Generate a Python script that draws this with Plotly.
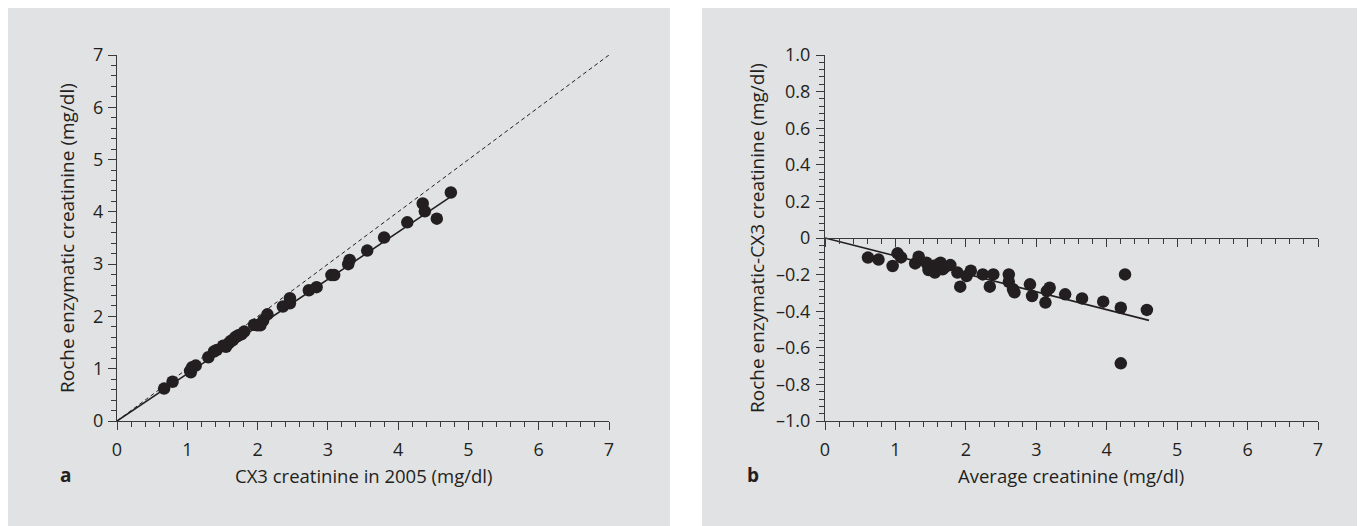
import plotly.graph_objects as go

# ---------------- data ----------------
# Panel a: CX3 creatinine in 2005 vs Roche enzymatic creatinine (mg/dl)
a_x = [0.67, 0.79, 1.04, 1.05, 1.07, 1.12, 1.30, 1.38, 1.42, 1.51, 1.55, 1.57, 1.60,
       1.62, 1.65, 1.68, 1.71, 1.73, 1.77, 1.81, 1.95, 2.00, 2.04, 2.08, 2.14, 2.36,
       2.46, 2.46, 2.73, 2.84, 3.05, 3.09, 3.29, 3.31, 3.56, 3.80, 4.13, 4.35, 4.38,
       4.55, 4.75]
a_y = [0.62, 0.75, 0.96, 0.93, 1.03, 1.06, 1.22, 1.33, 1.36, 1.44, 1.42, 1.46, 1.50,
       1.53, 1.55, 1.60, 1.62, 1.64, 1.66, 1.71, 1.84, 1.83, 1.83, 1.92, 2.04, 2.19,
       2.25, 2.35, 2.50, 2.56, 2.79, 2.79, 3.00, 3.08, 3.26, 3.51, 3.80, 4.16, 4.01,
       3.87, 4.37]
a_fit_x = [0, 4.75]
a_fit_y = [0, 4.29]
a_ident = [0, 7]

# Panel b: average creatinine vs difference Roche enzymatic - CX3 (mg/dl)
b_x = [0.61, 0.76, 0.96, 1.03, 1.08, 1.28, 1.33, 1.44, 1.47, 1.52, 1.56, 1.56, 1.64,
       1.67, 1.70, 1.78, 1.88, 1.92, 2.01, 2.07, 2.24, 2.34, 2.39, 2.61, 2.61, 2.67,
       2.69, 2.91, 2.94, 3.13, 3.15, 3.19, 3.41, 3.65, 3.95, 4.20, 4.26, 4.20, 4.57]
b_y = [-0.107, -0.118, -0.153, -0.084, -0.106, -0.139, -0.102, -0.135, -0.175, -0.160,
       -0.189, -0.150, -0.135, -0.171, -0.160, -0.148, -0.189, -0.266, -0.208, -0.179,
       -0.199, -0.266, -0.199, -0.199, -0.239, -0.280, -0.297, -0.253, -0.317, -0.353,
       -0.290, -0.272, -0.308, -0.330, -0.348, -0.381, -0.199, -0.685, -0.393]
b_fit_x = [0, 4.6]
b_fit_y = [0, -0.45]

x_ticks = [0, 1, 2, 3, 4, 5, 6, 7]
a_y_ticks = [0, 1, 2, 3, 4, 5, 6, 7]
b_y_tickvals = [1.0, 0.8, 0.6, 0.4, 0.2, 0, -0.2, -0.4, -0.6, -0.8, -1.0]
b_y_ticktext = ["1.0", "0.8", "0.6", "0.4", "0.2", "0", "\u20130.2", "\u20130.4",
                "\u20130.6", "\u20130.8", "\u20131.0"]

title_a_x = "CX3 creatinine in 2005 (mg/dl)"
title_a_y = "Roche enzymatic creatinine (mg/dl)"
title_b_x = "Average creatinine (mg/dl)"
title_b_y = "Roche enzymatic-CX3 creatinine (mg/dl)"
panel_labels = ["a", "b"]

# ---------------- style ----------------
OFF = 8                      # page body margin in the browser
W, H = 1365 - OFF, 526 - OFF  # figure size so that it fits the window
BG = "rgb(225,226,228)"
INK = "#231f20"
AX = "#3a3a3a"
FONT = "Open Sans"

def px(p):
    return max(0.0, min(1.0, (p - OFF) / W))

def py(p):
    return max(0.0, min(1.0, 1 - (p - OFF) / H))

dom_y = [py(421), py(55)]
dom_xa = [px(117), px(609)]
dom_xb = [px(825), px(1318)]

fig = go.Figure()

marker = dict(color=INK, size=12.5, line=dict(width=0))

fig.add_trace(go.Scatter(x=a_ident, y=a_ident, mode="lines",
                         line=dict(color=INK, width=1, dash="4px,3px"),
                         xaxis="x", yaxis="y", showlegend=False, hoverinfo="skip"))
fig.add_trace(go.Scatter(x=a_fit_x, y=a_fit_y, mode="lines",
                         line=dict(color=INK, width=1.6),
                         xaxis="x", yaxis="y", showlegend=False, hoverinfo="skip"))
fig.add_trace(go.Scatter(x=a_x, y=a_y, mode="markers", marker=marker,
                         xaxis="x", yaxis="y", showlegend=False))

fig.add_trace(go.Scatter(x=b_fit_x, y=b_fit_y, mode="lines",
                         line=dict(color=INK, width=1.6),
                         xaxis="x3", yaxis="y2", showlegend=False, hoverinfo="skip"))
fig.add_trace(go.Scatter(x=b_x, y=b_y, mode="markers", marker=marker,
                         xaxis="x2", yaxis="y2", showlegend=False))

tickfont = dict(family=FONT, size=18, color=INK)
minor_style = dict(ticks="outside", ticklen=5, tickwidth=1, tickcolor=AX)

def xaxis_common(domain, anchor):
    return dict(domain=domain, anchor=anchor, range=[0, 7], tickvals=x_ticks,
                showgrid=False, zeroline=False, showline=True, linecolor=AX, linewidth=1.3,
                ticks="outside", ticklen=8, tickwidth=1.3, tickcolor=AX,
                minor=dict(dtick=0.2, **minor_style), automargin=False,
                ticklabelstandoff=4,
                tickfont=tickfont, fixedrange=True)

xa = xaxis_common(dom_xa, "y")
xb = xaxis_common(dom_xb, "y2")
x0b = xaxis_common(dom_xb, "free")
x0b.update(overlaying="x2", position=(dom_y[0] + dom_y[1]) / 2, showticklabels=False)

ya = dict(domain=dom_y, anchor="x", range=[0, 7], tickvals=a_y_ticks,
          showgrid=False, zeroline=False, showline=True, linecolor=AX, linewidth=1.3,
          ticks="outside", ticklen=8, tickwidth=1.3, tickcolor=AX,
          minor=dict(dtick=0.2, **minor_style), automargin=False,
          ticklabelstandoff=1,
          tickfont=tickfont, fixedrange=True)
yb = dict(domain=dom_y, anchor="x2", range=[-1, 1], tickvals=b_y_tickvals,
          ticktext=b_y_ticktext,
          showgrid=False, zeroline=False, showline=True, linecolor=AX, linewidth=1.3,
          ticks="outside", ticklen=8, tickwidth=1.3, tickcolor=AX,
          minor=dict(dtick=0.04, **minor_style), automargin=False,
          ticklabelstandoff=2,
          tickfont=tickfont, fixedrange=True)

def ann(text, x, y, angle=0, bold=False, size=18.5):
    return dict(text=f"<b>{text}</b>" if bold else text, xref="paper", yref="paper",
                x=px(x), y=py(y), showarrow=False, textangle=angle,
                xanchor="center", yanchor="middle",
                font=dict(family=FONT, size=size, color=INK))

fig.update_layout(
    width=W, height=H, autosize=False,
    margin=dict(l=0, r=0, t=0, b=0, autoexpand=False),
    paper_bgcolor="white", plot_bgcolor=BG,
    font=dict(family=FONT, color=INK),
    xaxis=xa, yaxis=ya, xaxis2=xb, yaxis2=yb, xaxis3=x0b,
    shapes=[
        dict(type="rect", xref="paper", yref="paper", x0=px(5), x1=px(670), y0=0, y1=py(5),
             fillcolor=BG, line=dict(width=0), layer="below"),
        dict(type="rect", xref="paper", yref="paper", x0=px(702), x1=px(1363), y0=0, y1=py(5),
             fillcolor=BG, line=dict(width=0), layer="below"),
    ],
    annotations=[
        ann(title_a_x, 363, 475),
        ann(title_a_y, 67, 238, angle=-90, size=19),
        ann(title_b_x, 1071, 475),
        ann(title_b_y, 757, 238, angle=-90, size=19),
        ann(panel_labels[0], 65, 475, bold=True, size=19),
        ann(panel_labels[1], 753, 475, bold=True, size=19),
    ],
)

fig.write_html("out.html")
